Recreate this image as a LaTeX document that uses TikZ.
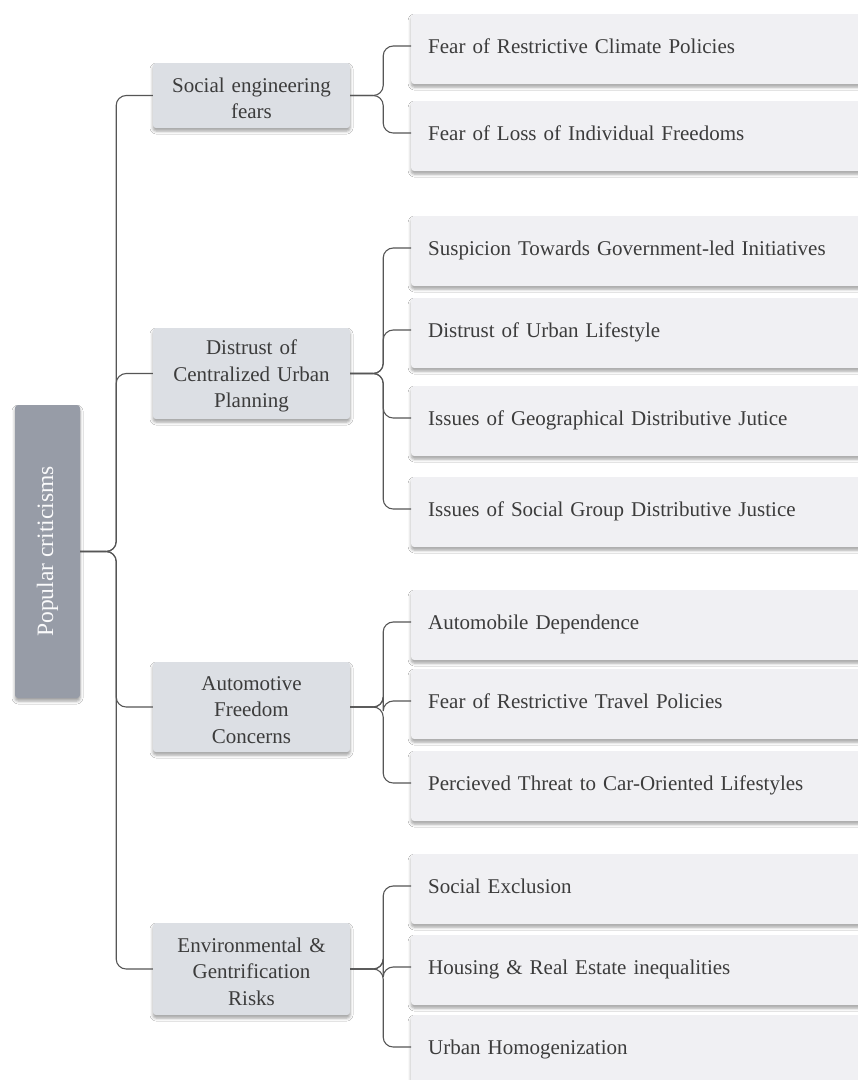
\documentclass[tikz,border=0pt]{standalone}
\usepackage{fontspec}
\setmainfont{Liberation Serif}
\usepackage{tikz}
\usetikzlibrary{positioning,calc,shadows.blur}
\definecolor{ink}{HTML}{3C3C3C}
\definecolor{wire}{HTML}{565656}
\definecolor{rootfill}{HTML}{979CA7}
\definecolor{topicfill}{HTML}{DCDFE4}
\definecolor{leaffill}{HTML}{F0F0F3}

\tikzset{
  card/.style={rounded corners=3pt,
    blur shadow={shadow xshift=0pt, shadow yshift=-3pt, shadow blur radius=3pt, shadow opacity=38}},
  rootbox/.style={card, fill=rootfill, text=white!95!rootfill, minimum width=65pt,
    minimum height=293pt, inner sep=0pt, font=\fontsize{23.5}{28}\selectfont},
  topic/.style={card, fill=topicfill, text=ink, text width=180pt, align=center,
    minimum width=197pt, inner xsep=8.5pt, text height=20pt,
    font=\fontsize{21}{26.5}\selectfont},
  leaf/.style={card, fill=leaffill, text=ink, text width=460pt, align=left,
    inner xsep=17pt, inner ysep=0pt, text height=39pt, text depth=31pt,
    anchor=base west, font=\fontsize{21}{26}\selectfont},
  link/.style={draw=wire, line width=1.1pt, rounded corners=10pt},
}

\begin{document}
\begin{tikzpicture}[x=1pt,y=-1pt]
  \fill[white] (0,0) rectangle (858,1080);
  \useasboundingbox (0,0) rectangle (858,1080);
  \clip (0,0) rectangle (858,1080);

  \node[rootbox] (root) at (47.5,551.5) {\rotatebox{90}{Popular criticisms}};

  % second level, hung off the root brace
  \foreach \k/\y/\h/\n in {
     social/95.5/65/{Social engineering\\fears},
     distrust/373.5/91/{Distrust of\\Centralized Urban\\Planning},
     autofree/707/90/{Automotive\\Freedom\\Concerns},
     envrisk/969/92/{Environmental \&\\Gentrification\\Risks}}
  {
    \node[topic, minimum height=\h pt] (\k) at (251.5,\y) {\n};
    \draw[link] (root.east) -- ++(36,0) |- (\k.west);
  }

  % leaves, running off the right edge; the wire meets the text line
  \foreach \p/\k/\y/\n in {
     social/climate/46/{Fear of Restrictive Climate Policies},
     social/freedoms/133/{Fear of Loss of Individual Freedoms},
     distrust/govt/248/{Suspicion Towards Government-led Initiatives},
     distrust/lifestyle/330/{Distrust of Urban Lifestyle},
     distrust/geo/418/{Issues of Geographical Distributive Jutice},
     distrust/group/509/{Issues of Social Group Distributive Justice},
     autofree/dependence/622/{Automobile Dependence},
     autofree/travel/701/{Fear of Restrictive Travel Policies},
     autofree/threat/783/{Percieved Threat to Car-Oriented Lifestyles},
     envrisk/exclusion/886/{Social Exclusion},
     envrisk/housing/967/{Housing \& Real Estate inequalities},
     envrisk/homog/1047/{Urban Homogenization}}
  {
    \node[leaf] (\k) at (411,\y+7) {\n};
    \draw[link] (\p.east) -- ++(33,0) |- ($(\k.base west)+(0,-7)$);
  }
\end{tikzpicture}
\end{document}
